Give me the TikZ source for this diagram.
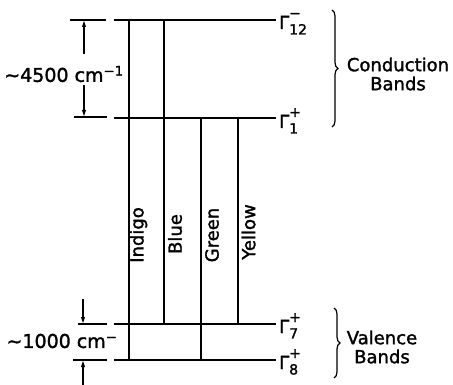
\documentclass[tikz,border=0pt]{standalone}
\usepackage{fontspec}
\setmainfont{DejaVu Sans}[FakeBold=1.6,AutoFakeBold=1.6]
\usetikzlibrary{decorations.pathreplacing,arrows.meta}
\newcommand{\glab}[2]{Γ\rlap{\raisebox{11pt}{\fontsize{14}{14}\selectfont\bfseries #2}}\raisebox{-5.5pt}{\fontsize{14}{14}\selectfont\bfseries #1}}
\begin{document}
\begin{tikzpicture}[x=1pt,y=-1pt,
 lvl/.style={line width=2pt},
 trans/.style={line width=2pt},
 ext/.style={line width=1.1pt},
 dim/.style={line width=1.1pt,-{Latex[length=7pt,width=4.5pt]}},
 lab/.style={font=\fontsize{18}{19}\selectfont\bfseries, inner sep=0pt},
 vlab/.style={lab, rotate=90},
 gam/.style={font=\fontsize{18}{18}\selectfont\bfseries, inner sep=0pt, anchor=base west},
 dlab/.style={font=\fontsize{19}{20}\selectfont\bfseries, inner sep=0pt},
 brc/.style={decorate,decoration={brace,amplitude=6pt},line width=1.2pt}
]
\useasboundingbox (0,0) rectangle (453,385);
% levels
\coordinate (L12a) at (114,20);  \coordinate (L12b) at (276,20);
\coordinate (L1a)  at (114,118); \coordinate (L1b)  at (276,118);
\coordinate (L7a)  at (114,324); \coordinate (L7b)  at (276,324);
\coordinate (L8a)  at (114,360); \coordinate (L8b)  at (276,360);
\draw[lvl] (L12a) -- (L12b);
\draw[lvl] (L1a) -- (L1b);
\draw[lvl] (L7a) -- (L7b);
\draw[lvl] (L8a) -- (L8b);
% transitions
\coordinate (Itop) at (129,20);  \coordinate (Ibot) at (129,360);
\coordinate (Btop) at (164,20);  \coordinate (Bbot) at (164,324);
\coordinate (Gtop) at (201,118); \coordinate (Gbot) at (201,360);
\coordinate (Ytop) at (238,118); \coordinate (Ybot) at (238,324);
\draw[trans] (Itop) -- (Ibot);
\draw[trans] (Btop) -- (Bbot);
\draw[trans] (Gtop) -- (Gbot);
\draw[trans] (Ytop) -- (Ybot);
\node[vlab] (tI) at (138.5,235) {Indigo};
\node[vlab] (tB) at (175,234) {Blue};
\node[vlab] (tG) at (212,235) {Green};
\node[vlab] (tY) at (248.5,232) {Yellow};
% level labels
\node[gam] (g12) at (279,29) {\glab{12}{−}};
\node[gam] (g1)  at (279,128) {\glab{1}{+}};
\node[gam] (g7)  at (279,333) {\glab{7}{+}};
\node[gam] (g8)  at (279,369) {\glab{8}{+}};
% braces
\coordinate (cb1) at (332,10); \coordinate (cb2) at (332,127);
\coordinate (vb1) at (334,308); \coordinate (vb2) at (334,378);
\draw[brc] (cb1) -- (cb2);
\draw[brc] (vb1) -- (vb2);
\node[lab, align=center] (cond) at (398,74) {Conduction\\Bands};
\node[lab, align=center] (val) at (382,347) {Valence\\Bands};
% dimension: 4500
\coordinate (e1a) at (70,20);  \coordinate (e1b) at (106,20);
\coordinate (e2a) at (74,117); \coordinate (e2b) at (107,117);
\draw[ext] (e1a) -- (e1b);
\draw[ext] (e2a) -- (e2b);
\coordinate (d1s) at (84,54); \coordinate (d1e) at (84,20);
\coordinate (d2s) at (84,85); \coordinate (d2e) at (84,117);
\draw[dim] (d1s) -- (d1e);
\draw[dim] (d2s) -- (d2e);
\node[dlab] (t4500) at (64,74) {∼4500 cm\textsuperscript{−1}};
% dimension: 1000
\coordinate (e3a) at (78,324); \coordinate (e3b) at (107,324);
\coordinate (e4a) at (73,360); \coordinate (e4b) at (107,360);
\draw[ext] (e3a) -- (e3b);
\draw[ext] (e4a) -- (e4b);
\coordinate (d3s) at (83,299); \coordinate (d3e) at (83,324);
\coordinate (d4s) at (83,385); \coordinate (d4e) at (83,360);
\draw[dim] (d3s) -- (d3e);
\draw[dim] (d4s) -- (d4e);
\node[dlab] (t1000) at (62,341) {∼1000 cm\textsuperscript{−}};
\end{tikzpicture}
\end{document}
